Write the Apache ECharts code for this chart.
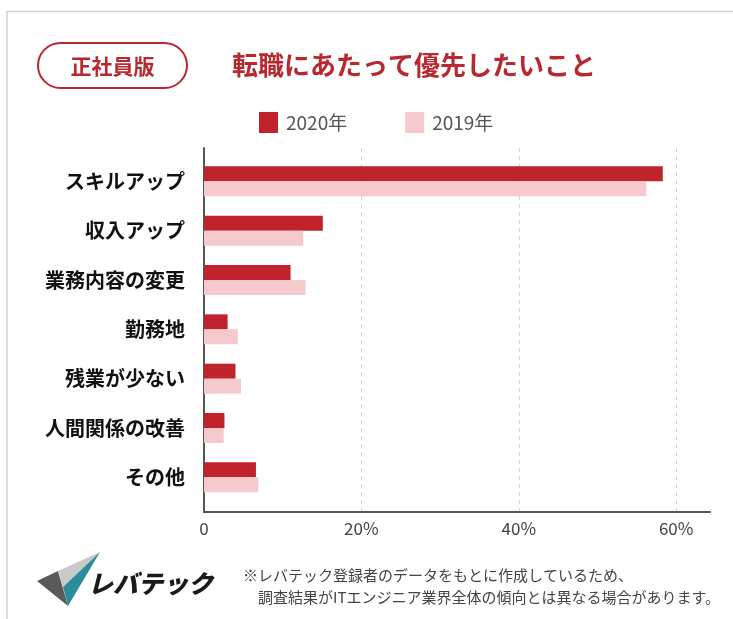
<!DOCTYPE html>
<html>
<head>
<meta charset="utf-8">
<script src="https://cdn.jsdelivr.net/npm/echarts@6/dist/echarts.min.js"></script>
<style>
  html, body { margin: 0; padding: 0; background: #fff; }
  #chart { width: 733px; height: 619px; }
</style>
</head>
<body>
<div id="chart"></div>
<script>
// 転職にあたって優先したいこと（正社員版）
const categories = ['スキルアップ', '収入アップ', '業務内容の変更', '勤務地', '残業が少ない', '人間関係の改善', 'その他'];
const values2020 = [58.3, 15.1, 11.0, 3.0, 4.0, 2.6, 6.6];
const values2019 = [56.2, 12.6, 12.9, 4.3, 4.7, 2.5, 6.9];
const seriesNames = ['2020年', '2019年'];
const xTicks = [0, 20, 40, 60];

const FONT = '"Noto Sans CJK JP", "Noto Sans", sans-serif';
const RED = '#c0232b';
const PINK = '#f6c9cc';
const TITLE_RED = '#b8282f';

const X_MAX = 64.3;
const PLOT = { left: 204, width: 506 };

const chart = echarts.init(document.getElementById('chart'), null, { renderer: 'canvas' });

chart.setOption({
  backgroundColor: '#fff',
  textStyle: { fontFamily: FONT },
  animation: false,
  legend: {
    data: seriesNames,
    left: 254,
    top: 107,
    icon: 'rect',
    itemWidth: 19,
    itemHeight: 21,
    itemGap: 58,
    textStyle: { fontSize: 19, color: '#555', fontFamily: FONT, padding: [0, 0, 0, 3] }
  },
  grid: [
    // bars
    { left: PLOT.left, width: PLOT.width, top: 156.7, height: 345.3 },
    // axis frame, ticks and dashed guides
    { left: PLOT.left, width: PLOT.width, top: 148, height: 364 }
  ],
  xAxis: [
    { gridIndex: 0, type: 'value', min: 0, max: X_MAX, show: false },
    {
      gridIndex: 1, type: 'value', min: xTicks[0], max: X_MAX, interval: 20,
      axisLine: { show: true, lineStyle: { color: '#555', width: 2 } },
      axisTick: { show: false },
      axisLabel: {
        showMaxLabel: false,
        margin: 8,
        fontSize: 17,
        color: '#444',
        fontFamily: FONT,
        formatter: v => xTicks.includes(v) ? (v === 0 ? '0' : v + '%') : ''
      },
      splitLine: {
        show: true, showMinLine: false, showMaxLine: false,
        lineStyle: { color: '#d5d5d5', type: [4, 4], width: 1 }
      }
    }
  ],
  yAxis: [
    {
      gridIndex: 0, type: 'category', data: categories, inverse: true,
      axisLine: { show: false }, axisTick: { show: false },
      axisLabel: { fontSize: 20, fontWeight: 'bold', color: '#111', margin: 19, fontFamily: FONT }
    },
    {
      gridIndex: 1, type: 'value', min: 0, max: 1,
      axisLine: { show: true, lineStyle: { color: '#555', width: 2 } },
      axisTick: { show: false }, axisLabel: { show: false }, splitLine: { show: false }
    }
  ],
  series: [
    {
      name: seriesNames[0], type: 'bar', xAxisIndex: 0, yAxisIndex: 0,
      data: values2020, barWidth: 15, barGap: '0%',
      itemStyle: { color: RED }
    },
    {
      name: seriesNames[1], type: 'bar', xAxisIndex: 0, yAxisIndex: 0,
      data: values2019, barWidth: 15, barGap: '0%',
      itemStyle: { color: PINK }
    }
  ],
  graphic: [
    // card outline
    {
      type: 'polyline', z: -1,
      shape: { points: [[7, 619], [7, 11.5], [733, 11.5]] },
      style: { stroke: '#cfcfcf', lineWidth: 1.5, fill: null }
    },
    // badge
    {
      type: 'rect',
      shape: { x: 38, y: 43, width: 149, height: 45, r: 22.5 },
      style: { fill: '#fff', stroke: TITLE_RED, lineWidth: 2 }
    },
    {
      type: 'text', x: 112.5, y: 66,
      style: {
        text: '正社員版', fill: TITLE_RED, font: 'bold 21px ' + FONT,
        align: 'center', verticalAlign: 'middle'
      }
    },
    // title
    {
      type: 'text', x: 232, y: 65,
      style: {
        text: '転職にあたって優先したいこと', fill: TITLE_RED, font: 'bold 26px ' + FONT,
        align: 'left', verticalAlign: 'middle'
      }
    },
    // logo mark
    {
      type: 'polygon',
      shape: { points: [[37, 581], [58, 571], [68, 606]] },
      style: { fill: '#5a5a5a' }
    },
    {
      type: 'polygon',
      shape: { points: [[58, 571], [100, 552], [63, 587]] },
      style: { fill: '#c9c9c9' }
    },
    {
      type: 'polygon',
      shape: { points: [[63, 587], [100, 552], [68, 606]] },
      style: { fill: '#2a8d99' }
    },
    {
      type: 'text', x: 88, y: 583,
      style: {
        text: 'レバテック', fill: '#1a1a1a', font: 'italic 900 25px ' + FONT,
        align: 'left', verticalAlign: 'middle'
      }
    },
    // note
    {
      type: 'text', x: 243, y: 575,
      style: {
        text: '※レバテック登録者のデータをもとに作成しているため、', fill: '#444',
        font: '15px ' + FONT, align: 'left', verticalAlign: 'middle'
      }
    },
    {
      type: 'text', x: 258, y: 597,
      style: {
        text: '調査結果がITエンジニア業界全体の傾向とは異なる場合があります。', fill: '#444',
        font: '15px ' + FONT, align: 'left', verticalAlign: 'middle'
      }
    }
  ]
});
</script>
</body>
</html>
